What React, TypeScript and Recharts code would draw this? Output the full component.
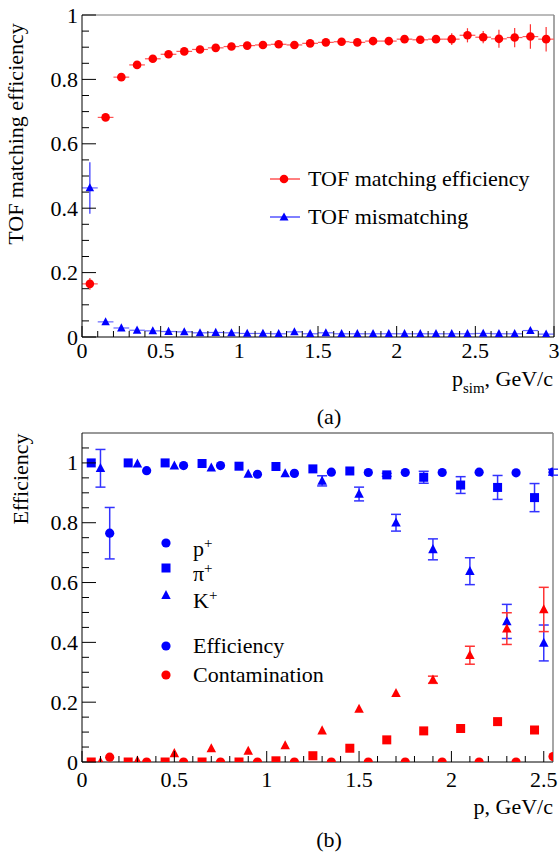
import React from 'react';
import {
  ScatterChart,
  Scatter,
  XAxis,
  YAxis,
  ErrorBar,
  ReferenceLine,
  Legend,
} from 'recharts';

// (a) TOF matching, bins of 0.1 GeV/c
const topX = [
  0.05, 0.15, 0.25, 0.35, 0.45, 0.55, 0.65, 0.75, 0.85, 0.95,
  1.05, 1.15, 1.25, 1.35, 1.45, 1.55, 1.65, 1.75, 1.85, 1.95,
  2.05, 2.15, 2.25, 2.35, 2.45, 2.55, 2.65, 2.75, 2.85, 2.95,
];
const matchEff = [
  0.165, 0.682, 0.807, 0.845, 0.864, 0.878, 0.887, 0.893, 0.898, 0.902,
  0.905, 0.907, 0.909, 0.907, 0.912, 0.915, 0.917, 0.915, 0.919, 0.919,
  0.925, 0.923, 0.925, 0.925, 0.937, 0.931, 0.926, 0.93, 0.933, 0.925,
];
const matchErr = [
  0.018, 0.004, 0.004, 0.004, 0.004, 0.004, 0.004, 0.004, 0.004, 0.004,
  0.005, 0.005, 0.005, 0.005, 0.006, 0.006, 0.006, 0.007, 0.007, 0.008,
  0.01, 0.01, 0.012, 0.018, 0.022, 0.019, 0.028, 0.03, 0.038, 0.038,
];
const mismatch = [
  0.463, 0.047, 0.028, 0.021, 0.019, 0.017, 0.016, 0.013, 0.014, 0.013,
  0.011, 0.011, 0.01, 0.016, 0.01, 0.013, 0.01, 0.01, 0.01, 0.01,
  0.01, 0.01, 0.01, 0.01, 0.01, 0.011, 0.01, 0.01, 0.02, 0.009,
];
const mismatchErr = [
  0.08, 0.004, 0.003, 0.003, 0.003, 0.003, 0.003, 0.003, 0.003, 0.003,
  0.003, 0.003, 0.003, 0.003, 0.003, 0.003, 0.003, 0.003, 0.003, 0.003,
  0.003, 0.003, 0.003, 0.003, 0.004, 0.004, 0.004, 0.004, 0.005, 0.005,
];

// (b) efficiency / contamination per particle type
const pX = [0.15, 0.35, 0.55, 0.75, 0.95, 1.15, 1.35, 1.55, 1.75, 1.95, 2.15, 2.35, 2.55];
const piX = [0.05, 0.25, 0.45, 0.65, 0.85, 1.05, 1.25, 1.45, 1.65, 1.85, 2.05, 2.25, 2.45];
const kX = [0.1, 0.3, 0.5, 0.7, 0.9, 1.1, 1.3, 1.5, 1.7, 1.9, 2.1, 2.3, 2.5];

const pEff = [0.765, 0.974, 0.991, 0.991, 0.962, 0.965, 0.969, 0.968, 0.968, 0.968, 0.969, 0.967, 0.969];
const pEffErr = [0.086, 0, 0, 0, 0, 0, 0, 0, 0, 0, 0, 0, 0.01];
const piEff = [1.0, 1.0, 1.0, 0.998, 0.989, 0.988, 0.98, 0.973, 0.96, 0.952, 0.926, 0.918, 0.884];
const piEffErr = [0, 0, 0, 0, 0, 0, 0, 0, 0.005, 0.02, 0.028, 0.04, 0.047];
const kEff = [0.982, 0.997, 0.991, 0.984, 0.963, 0.965, 0.94, 0.896, 0.8, 0.711, 0.638, 0.47, 0.398];
const kEffErr = [0.063, 0, 0, 0, 0, 0, 0.017, 0.023, 0.028, 0.035, 0.045, 0.057, 0.06];

const pCont = [0.016, 0, 0, 0, 0, 0, 0, 0, 0, 0, 0, 0, 0.018];
const pContErr = [0, 0, 0, 0, 0, 0, 0, 0, 0, 0, 0, 0, 0];
const piCont = [0, 0, 0, 0, 0, 0.004, 0.021, 0.046, 0.074, 0.104, 0.112, 0.135, 0.107];
const piContErr = [0, 0, 0, 0, 0, 0, 0, 0, 0, 0, 0, 0, 0];
const kCont = [0, 0.004, 0.029, 0.045, 0.037, 0.055, 0.105, 0.177, 0.23, 0.275, 0.357, 0.446, 0.51];
const kContErr = [0, 0, 0, 0, 0, 0, 0, 0, 0, 0.012, 0.03, 0.053, 0.074];

const topXLabels = [0, 0.5, 1, 1.5, 2, 2.5, 3];
const topYLabels = [0, 0.2, 0.4, 0.6, 0.8, 1];
const botXLabels = [0, 0.5, 1, 1.5, 2, 2.5];
const botYLabels = [0, 0.2, 0.4, 0.6, 0.8, 1];

const FONT = '"Liberation Serif", "Times New Roman", serif';
const RED = '#ff0000';
const BLUE = '#0000ff';

const minorTicks = (max: number, step: number) => {
  const out: number[] = [];
  for (let i = 0; i * step <= max + 1e-9; i++) out.push(Number((i * step).toFixed(3)));
  return out;
};

const isMajor = (v: number, labels: number[]) => labels.some(l => Math.abs(l - v) < 1e-6);

const build = (xs: number[], ys: number[], errs: number[]) =>
  xs.map((x, i) => ({ x, y: ys[i], ey: errs[i], ex: 0.05 }));

// ROOT style ticks: drawn inward, longer for labelled values
const XTick = ({ x, y, payload, labels, dy }: any) => {
  const major = isMajor(payload.value, labels);
  return (
    <g>
      <line x1={x} x2={x} y1={y} y2={y - (major ? 11 : 6)} stroke="#000" />
      {major && (
        <text x={x} y={y + dy} textAnchor="middle" dominantBaseline="central" fontSize={22} fontFamily={FONT} fill="#000">
          {String(payload.value)}
        </text>
      )}
    </g>
  );
};

const YTick = ({ x, y, payload, labels }: any) => {
  const major = isMajor(payload.value, labels);
  return (
    <g>
      <line x1={x} x2={x + (major ? 14 : 7)} y1={y} y2={y} stroke="#000" />
      {major && (
        <text x={x - 4} y={y} textAnchor="end" dominantBaseline="central" fontSize={22} fontFamily={FONT} fill="#000">
          {String(payload.value)}
        </text>
      )}
    </g>
  );
};

const Circle = (color: string, r: number) => (p: any) =>
  <circle cx={p.cx} cy={p.cy} r={r} fill={color} />;
const Square = (color: string, s: number) => (p: any) =>
  <rect x={p.cx - s / 2} y={p.cy - s / 2} width={s} height={s} fill={color} />;
const Triangle = (color: string, w: number) => (p: any) =>
  <polygon
    points={`${p.cx},${p.cy - w * 0.55} ${p.cx - w / 2},${p.cy + w * 0.4} ${p.cx + w / 2},${p.cy + w * 0.4}`}
    fill={color}
  />;

const text22: React.CSSProperties = {
  position: 'absolute',
  fontFamily: FONT,
  fontSize: 22,
  lineHeight: '22px',
  whiteSpace: 'nowrap',
  color: '#000',
};

const TopLegend = () => (
  <div style={{ position: 'relative' }}>
    {[
      { y: 179, label: 'TOF matching efficiency', color: RED, tri: false },
      { y: 217, label: 'TOF mismatching', color: BLUE, tri: true },
    ].map(r => (
      <div key={r.label} style={{ position: 'absolute', left: 270, top: r.y - 11, height: 22 }}>
        <svg width={30} height={22} style={{ position: 'absolute', left: 0, top: 0 }}>
          <line x1={0} x2={30} y1={11} y2={11} stroke={r.color} />
          {r.tri ? (
            <polygon points="14,6.5 9.5,14.5 18.5,14.5" fill={r.color} />
          ) : (
            <circle cx={14} cy={11} r={4.3} fill={r.color} />
          )}
        </svg>
        <span style={{ ...text22, left: 38, top: 0 }}>{r.label}</span>
      </div>
    ))}
  </div>
);

const BottomLegend = () => {
  const rows = [
    { y: 543, kind: 'c', color: BLUE, label: <>p<sup style={{ fontSize: 15 }}>+</sup></> },
    { y: 568, kind: 's', color: BLUE, label: <>π<sup style={{ fontSize: 15 }}>+</sup></> },
    { y: 595, kind: 't', color: BLUE, label: <>K<sup style={{ fontSize: 15 }}>+</sup></> },
    { y: 646, kind: 'c', color: BLUE, label: <>Efficiency</> },
    { y: 675, kind: 'c', color: RED, label: <>Contamination</> },
  ];
  return (
    <div style={{ position: 'relative' }}>
      {rows.map((r, i) => (
        <div key={i} style={{ position: 'absolute', left: 156, top: r.y - 420 - 11, height: 22 }}>
          <svg width={20} height={22} style={{ position: 'absolute', left: 0, top: 0 }}>
            {r.kind === 'c' && <circle cx={10} cy={11} r={4.6} fill={r.color} />}
            {r.kind === 's' && <rect x={5.5} y={6.5} width={9} height={9} fill={r.color} />}
            {r.kind === 't' && <polygon points="10,6 5.3,15 14.7,15" fill={r.color} />}
          </svg>
          <span style={{ ...text22, left: 37, top: 0, lineHeight: '22px' }}>{r.label}</span>
        </div>
      ))}
    </div>
  );
};

export default function App() {
  const topTicksX = minorTicks(3, 0.1);
  const topTicksY = minorTicks(1, 0.05);
  const botTicksX = minorTicks(2.5, 0.1);
  const botTicksY = minorTicks(1.05, 0.05);

  return (
    <div style={{ position: 'absolute', left: 0, top: 0, width: 560, height: 852, background: '#fff', fontFamily: FONT }}>
      {/* (a) */}
      <div style={{ position: 'absolute', left: 0, top: 0 }}>
        <ScatterChart width={560} height={420} margin={{ top: 15, right: 6, bottom: 82, left: 81 }}>
          <XAxis
            type="number"
            dataKey="x"
            domain={[0, 3]}
            ticks={topTicksX}
            interval={0}
            height={1}
            tickSize={0}
            tickMargin={0}
            tickLine={false}
            axisLine={{ stroke: '#000' }}
            allowDataOverflow
            tick={(p: any) => <XTick {...p} labels={topXLabels} dy={13} />}
          />
          <YAxis
            type="number"
            dataKey="y"
            domain={[0, 1]}
            ticks={topTicksY}
            interval={0}
            width={1}
            tickSize={0}
            tickMargin={0}
            tickLine={false}
            axisLine={{ stroke: '#000' }}
            allowDataOverflow
            tick={(p: any) => <YTick {...p} labels={topYLabels} />}
          />
          <ReferenceLine y={1} stroke="#777" />
          <ReferenceLine x={3} stroke="#888" strokeWidth={1.5} />
          <Scatter data={build(topX, matchEff, matchErr)} shape={Circle(RED, 4.3)} isAnimationActive={false}>
            <ErrorBar dataKey="ex" direction="x" width={0} stroke="#ff5555" strokeWidth={1.2} />
            <ErrorBar dataKey="ey" direction="y" width={0} stroke="#ff3333" strokeWidth={1.2} />
          </Scatter>
          <Scatter data={build(topX, mismatch, mismatchErr)} shape={Triangle(BLUE, 8.5)} isAnimationActive={false}>
            <ErrorBar dataKey="ex" direction="x" width={0} stroke="#6666ff" strokeWidth={1.2} />
            <ErrorBar dataKey="ey" direction="y" width={0} stroke="#3333ff" strokeWidth={1.2} />
          </Scatter>
          <Legend
            verticalAlign="middle"
            align="center"
            wrapperStyle={{ left: 0, top: 0, width: 560, height: 0 }}
            content={() => <TopLegend />}
          />
        </ScatterChart>
      </div>
      <div style={{ ...text22, left: 16, top: 133.5, transform: 'translate(-50%, -50%) rotate(-90deg)' }}>
        TOF matching efficiency
      </div>
      <div style={{ ...text22, right: 560 - 553, top: 378.5 - 11 }}>
        p<span style={{ fontSize: 15, verticalAlign: '-0.45em' }}>sim</span>, GeV/c
      </div>
      <div style={{ ...text22, left: 329, top: 416.5 - 11, transform: 'translateX(-50%)' }}>(a)</div>

      {/* (b) */}
      <div style={{ position: 'absolute', left: 0, top: 420 }}>
        <ScatterChart width={560} height={432} margin={{ top: 13, right: 7, bottom: 89, left: 81 }}>
          <XAxis
            type="number"
            dataKey="x"
            domain={[0, 2.55]}
            ticks={botTicksX}
            interval={0}
            height={1}
            tickSize={0}
            tickMargin={0}
            tickLine={false}
            axisLine={{ stroke: '#000' }}
            allowDataOverflow
            tick={(p: any) => <XTick {...p} labels={botXLabels} dy={17} />}
          />
          <YAxis
            type="number"
            dataKey="y"
            domain={[0, 1.1]}
            ticks={botTicksY}
            interval={0}
            width={1}
            tickSize={0}
            tickMargin={0}
            tickLine={false}
            axisLine={{ stroke: '#000' }}
            allowDataOverflow
            tick={(p: any) => <YTick {...p} labels={botYLabels} />}
          />
          <ReferenceLine y={1.1} stroke="#333" />
          <ReferenceLine x={2.55} stroke="#888" strokeWidth={1.5} />
          <Scatter data={build(piX, piEff, piEffErr)} shape={Square(BLUE, 9)} isAnimationActive={false}>
            <ErrorBar dataKey="ey" direction="y" width={5} stroke="#3333ff" />
          </Scatter>
          <Scatter data={build(kX, kEff, kEffErr)} shape={Triangle(BLUE, 9.5)} isAnimationActive={false}>
            <ErrorBar dataKey="ey" direction="y" width={5} stroke="#3333ff" />
          </Scatter>
          <Scatter data={build(pX, pEff, pEffErr)} shape={Circle(BLUE, 4.6)} isAnimationActive={false}>
            <ErrorBar dataKey="ey" direction="y" width={5} stroke="#3333ff" />
          </Scatter>
          <Scatter data={build(piX, piCont, piContErr)} shape={Square(RED, 9)} isAnimationActive={false}>
            <ErrorBar dataKey="ey" direction="y" width={5} stroke="#ff3333" />
          </Scatter>
          <Scatter data={build(kX, kCont, kContErr)} shape={Triangle(RED, 9.5)} isAnimationActive={false}>
            <ErrorBar dataKey="ey" direction="y" width={5} stroke="#ff3333" />
          </Scatter>
          <Scatter data={build(pX, pCont, pContErr)} shape={Circle(RED, 4.6)} isAnimationActive={false}>
            <ErrorBar dataKey="ey" direction="y" width={5} stroke="#ff3333" />
          </Scatter>
          <Legend
            verticalAlign="middle"
            align="center"
            wrapperStyle={{ left: 0, top: 0, width: 560, height: 0 }}
            content={() => <BottomLegend />}
          />
        </ScatterChart>
      </div>
      <div style={{ ...text22, left: 20.5, top: 479, transform: 'translate(-50%, -50%) rotate(-90deg)' }}>
        Efficiency
      </div>
      <div style={{ ...text22, right: 560 - 553, top: 806.5 - 11 }}>p, GeV/c</div>
      <div style={{ ...text22, left: 329, top: 840 - 11, transform: 'translateX(-50%)' }}>(b)</div>
    </div>
  );
}
